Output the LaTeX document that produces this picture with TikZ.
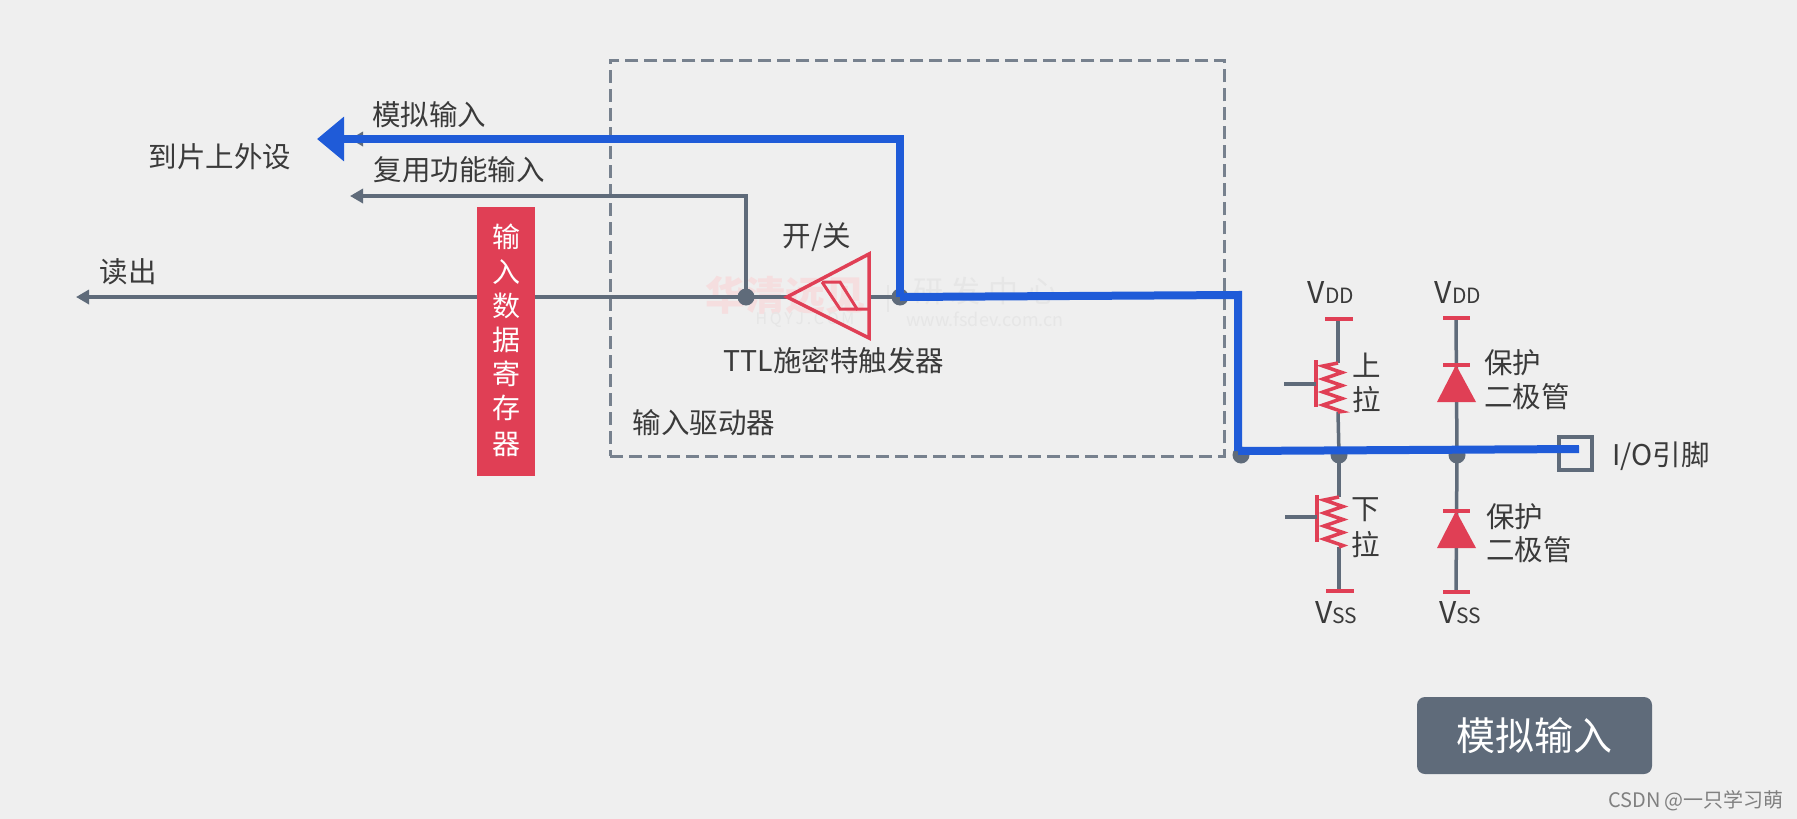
\documentclass[tikz,border=0pt]{standalone}
\usepackage{fontspec}
\setmainfont{Noto Sans CJK SC}
\usetikzlibrary{arrows.meta}
\definecolor{bgc}{HTML}{EFEFEF}
\definecolor{wire}{HTML}{5F6B7A}
\definecolor{bluew}{HTML}{1F5BD8}
\definecolor{redc}{HTML}{E03F55}
\definecolor{txt}{HTML}{3A3A3A}
\definecolor{wmred}{HTML}{F5DEDF}
\definecolor{wmgray}{HTML}{E6E6E6}
\tikzset{
  lbl/.style={inner sep=0pt,text=txt,font=\fontsize{28.5}{34}\selectfont},
  wirel/.style={draw=wire,line width=3.5pt},
  bluel/.style={draw=bluew,line width=8pt},
  redl/.style={draw=redc,line width=3.5pt},
  dotn/.style={circle,fill=wire,inner sep=0pt,minimum size=17pt},
  gtip/.style={-{Triangle[length=13pt,width=14pt]}},
  zigl/.style={draw=redc,line width=3.5pt,line join=miter},
}
\newcommand{\volt}[2]{{\fontsize{30}{34}\selectfont #1}{\fontsize{21}{34}\selectfont #2}}
\begin{document}
\begin{tikzpicture}[x=1pt,y=-1pt]
\useasboundingbox (0,0) rectangle (1797,819);
\fill[bgc] (0,0) rectangle (1797,819);
% watermark
\node[inner sep=0pt,text=wmred,font=\fontsize{40}{44}\bfseries\selectfont] (wm1) at (785,295) {华清远见};
\node[inner sep=0pt,text=wmgray,font=\fontsize{16}{20}\selectfont] (wm2) at (805,320) {H\,Q\,Y\,J\,.\,C\,O\,M};
\node[inner sep=0pt,text=wmgray,font=\fontsize{30}{34}\selectfont] (wm3) at (985,291) {研\hspace{8pt}发\hspace{8pt}中\hspace{8pt}心};
\node[inner sep=0pt,text=wmgray,font=\fontsize{18}{22}\selectfont] (wm4) at (985,319) {www.fsdev.com.cn};
\coordinate (wmA) at (888,285);
\coordinate (wmB) at (888,312);
\draw[wmgray,line width=1.5pt] (wmA) -- (wmB);
% dashed box
\node[draw=wire!85!white,line width=2.5pt,dash pattern=on 13pt off 6pt,minimum width=614pt,minimum height=396pt,inner sep=0pt,anchor=north west] (drv) at (609,59) {};
% junction coordinates
\coordinate (d1) at (746,297);
\coordinate (d2) at (900,297);
\coordinate (d3) at (1241,455);
\coordinate (d4) at (1339,455);
\coordinate (d5) at (1457,455);
\coordinate (readend) at (76,297);
\coordinate (muxend) at (350,196);
\coordinate (anaend) at (317,139);
\coordinate (ganaend) at (350,139);
\coordinate (tip) at (787,297);
\coordinate (tr) at (869,254);
\coordinate (br) at (869,338);
\coordinate (mr) at (869,297);
\coordinate (c1) at (1238,295);
\coordinate (c2) at (1238,451);
\coordinate (pinend) at (1579,449);
% grey wires
\draw[wirel,gtip] (tip) -- (readend);
\draw[wirel,gtip] (d1) -- (746,196) -- (muxend);
\draw[wirel,gtip] (d2) -- (900,139) -- (ganaend);
\draw[wirel] (mr) -- (d2);
% register
\node[fill=redc,minimum width=58pt,minimum height=269pt,inner sep=0pt,anchor=north west] (reg) at (477,207) {};
\foreach \c/\yy/\nm in {输/237/r1,入/272/r2,数/306/r3,据/340/r4,寄/374/r5,存/408/r6,器/444/r7}
  \node[inner sep=0pt,text=white,font=\fontsize{28}{32}\selectfont] (\nm) at (506,\yy) {\c};
% trigger
\draw[redl,line join=miter] (tip) -- (tr) -- (br) -- cycle;
\draw[draw=redc,line width=3pt,line join=miter] (822,282) -- (840,282) -- (857,309) -- (869,309);
\draw[draw=redc,line width=3pt,line join=miter] (822,282) -- (840,309) -- (857,309);
% dots
\node[dotn] (n1) at (d1) {};
\node[dotn] (n2) at (d2) {};
\node[dotn] (n3) at (d3) {};
\node[dotn] (n4) at (d4) {};
\node[dotn] (n5) at (d5) {};
% pull-up
\coordinate (puT) at (1338,319);
\coordinate (puA) at (1338,363);
\coordinate (puB) at (1338,412);
\draw[wirel] (puT) -- (puA);
\draw[wirel] (puB) -- (d4);
\draw[redl] (1325,319) -- (1353,319);
\draw[redl] (1316,360) -- (1316,407);
\draw[wirel] (1284,384) -- (1316,384);
\draw[zigl] (puA) -- ++(-15,3) -- ++(19,6.5) -- ++(-19,6.5) -- ++(19,6.5) -- ++(-19,6.5) -- ++(19,6.5) -- ++(-19,6.5) -- ++(19,6.5) -- (puB);
% pull-down
\coordinate (pdB) at (1339,591);
\coordinate (pdA) at (1339,497);
\coordinate (pdC) at (1339,547);
\draw[wirel] (d4) -- (pdA);
\draw[wirel] (pdC) -- (pdB);
\draw[redl] (1326,591) -- (1354,591);
\draw[redl] (1317,495) -- (1317,542);
\draw[wirel] (1285,517) -- (1317,517);
\draw[zigl] (pdA) -- ++(-15,3) -- ++(19,6.5) -- ++(-19,6.5) -- ++(19,6.5) -- ++(-19,6.5) -- ++(19,6.5) -- ++(-19,6.5) -- ++(19,6.5) -- (pdC);
% diode 1
\coordinate (dT) at (1456,318);
\coordinate (dB) at (1456,592);
\draw[wirel] (dT) -- (d5);
\draw[wirel] (d5) -- (dB);
\draw[redl] (1443,318) -- (1470,318);
\draw[redl] (1443,365) -- (1470,365);
\fill[redc] (1456,365) -- (1476,402) -- (1437,402) -- cycle;
% diode 2
\draw[redl] (1443,511) -- (1470,511);
\fill[redc] (1456,511) -- (1476,548) -- (1437,548) -- cycle;
\draw[redl] (1443,592) -- (1470,592);
% pin
\node[draw=wire,line width=3.5pt,fill=none,minimum size=33pt,inner sep=0pt] (pin) at (1575.5,453.5) {};
% blue path
\draw[bluel] (pinend) -- (1238,451);
\draw[bluel,line join=miter] (1238,451) -- (c1) -- (d2);
\draw[bluel,line join=miter,-{Triangle[length=27pt,width=43pt]}] (d2) -- (900,139) -- (anaend);
% labels
\node[lbl] (t1) at (429,115) {模拟输入};
\node[lbl] (t2) at (220,157) {到片上外设};
\node[lbl] (t3) at (459,170) {复用功能输入};
\node[lbl] (t4) at (128,272) {读出};
\node[lbl] (t5) at (817,237) {开/关};
\node[lbl] (t6) at (834,361) {TTL施密特触发器};
\node[lbl] (t7) at (704,423) {输入驱动器};
\node[lbl] (t8) at (1367,365) {上};
\node[lbl] (t9) at (1367,400) {拉};
\node[lbl] (t10) at (1366,510) {下};
\node[lbl] (t11) at (1366,545) {拉};
\node[lbl,anchor=west] (t12) at (1484,363) {保护};
\node[lbl,anchor=west] (t13) at (1484,397) {二极管};
\node[lbl,anchor=west] (t14) at (1486,517) {保护};
\node[lbl,anchor=west] (t15) at (1486,550) {二极管};
\node[lbl] (t16) at (1661,456) {I/O引脚};
\node[lbl] (t17) at (1331,293) {\volt{V}{DD}};
\node[lbl] (t18) at (1458,293) {\volt{V}{DD}};
\node[lbl] (t19) at (1336,613) {\volt{V}{SS}};
\node[lbl] (t20) at (1460,613) {\volt{V}{SS}};
% button
\node[fill=wire,rounded corners=8pt,minimum width=235pt,minimum height=77pt,inner sep=0pt,text=white,font=\fontsize{39}{44}\selectfont] (btn) at (1534.5,735.5) {\raisebox{-2pt}{模拟输入}};
% credit
\node[inner sep=0pt,text=black!50,font=\fontsize{20}{24}\selectfont] (csdn) at (1696,801) {CSDN @一只学习萌};
\end{tikzpicture}
\end{document}
